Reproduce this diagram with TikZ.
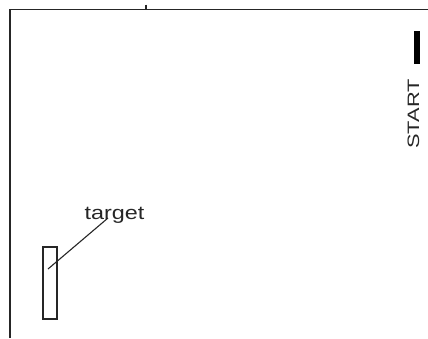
\documentclass[tikz,border=0pt]{standalone}
\usepackage{fontspec}
\setmainfont{Liberation Sans}
\begin{document}
\begin{tikzpicture}[x=1pt,y=-1pt,
  frame/.style={line width=1.3pt,black!85},
  lbl/.style={inner sep=0pt,text=black!85},
  tgtbox/.style={draw=black!85,line width=1.1pt,minimum width=14pt,minimum height=72pt,inner sep=0pt},
  leader/.style={line width=1.1pt,black!85}]
\useasboundingbox (0,0) rectangle (428,338);
% frame
\coordinate (fbl) at (10,338);
\coordinate (ftl) at (10,9.5);
\coordinate (ftr) at (428,9.5);
\draw[frame] (fbl) -- (ftl) -- (ftr);
% tick
\coordinate (tk1) at (146,4.5);
\coordinate (tk2) at (146,9.5);
\draw[line width=1.8pt,black!85] (tk1) -- (tk2);
% start bar
\fill[black] (414,31) rectangle (420,64);
\node[lbl,rotate=90,anchor=base,font=\fontsize{16.5}{20}\selectfont] (start) at (419,114) {\scalebox{1.32}[1]{START}};
% target
\node[tgtbox] (tgt) at (50,283) {};
\node[lbl,anchor=base west,font=\fontsize{19}{22}\selectfont] (tlabel) at (84.5,219) {\scalebox{1.23}[1]{target}};
\coordinate (lstart) at (108,218);
\coordinate (lend) at (48,269);
\draw[leader] (lstart) -- (lend);
\end{tikzpicture}
\end{document}
